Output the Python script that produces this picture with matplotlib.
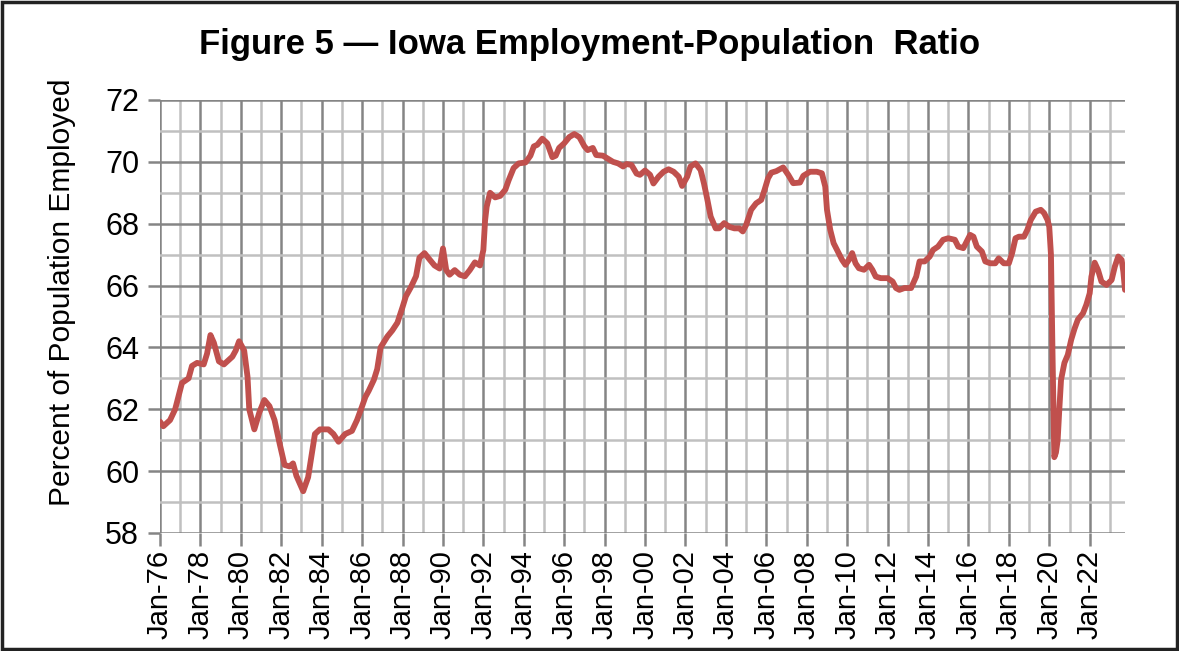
import pandas as pd
import matplotlib
matplotlib.use("Agg")
import matplotlib.pyplot as plt
import matplotlib.dates as mdates
from matplotlib.ticker import MultipleLocator
from matplotlib.patches import Rectangle

plt.rcParams['font.family'] = ['Liberation Sans', 'DejaVu Sans']

# Iowa employment-population ratio (month, percent)
months = [
    "1976-01", "1976-03", "1976-07", "1976-10", "1977-02", "1977-06", "1977-08", "1977-11",
    "1978-03", "1978-05", "1978-07", "1978-09", "1978-12", "1979-03", "1979-08", "1979-10",
    "1979-12", "1980-03", "1980-05", "1980-06", "1980-09", "1980-12", "1981-03", "1981-06",
    "1981-09", "1981-12", "1982-03", "1982-06", "1982-08", "1982-10", "1983-02", "1983-05",
    "1983-09", "1983-12", "1984-05", "1984-08", "1984-11", "1985-03", "1985-07", "1985-10",
    "1986-01", "1986-03", "1986-05", "1986-08", "1986-10", "1986-12", "1987-04", "1987-07",
    "1987-10", "1988-01", "1988-03", "1988-06", "1988-09", "1988-11", "1989-02", "1989-05",
    "1989-08", "1989-11", "1990-01", "1990-03", "1990-05", "1990-08", "1990-11", "1991-02",
    "1991-05", "1991-08", "1991-11", "1992-01", "1992-02", "1992-03", "1992-05", "1992-08",
    "1992-11", "1993-02", "1993-04", "1993-07", "1993-10", "1994-02", "1994-05", "1994-07",
    "1994-09", "1994-12", "1995-03", "1995-06", "1995-08", "1995-10", "1996-01", "1996-04",
    "1996-07", "1996-10", "1997-01", "1997-03", "1997-06", "1997-08", "1997-12", "1998-03",
    "1998-06", "1998-09", "1998-12", "1999-02", "1999-05", "1999-08", "1999-10", "2000-01",
    "2000-04", "2000-06", "2000-09", "2000-12", "2001-03", "2001-06", "2001-09", "2001-11",
    "2002-02", "2002-04", "2002-07", "2002-10", "2002-12", "2003-02", "2003-04", "2003-07",
    "2003-09", "2003-12", "2004-03", "2004-06", "2004-09", "2004-11", "2005-01", "2005-04",
    "2005-07", "2005-10", "2005-12", "2006-02", "2006-04", "2006-07", "2006-11", "2007-02",
    "2007-05", "2007-09", "2007-11", "2008-03", "2008-07", "2008-10", "2008-12", "2009-01",
    "2009-03", "2009-05", "2009-08", "2009-10", "2009-12", "2010-02", "2010-04", "2010-06",
    "2010-08", "2010-11", "2011-02", "2011-04", "2011-06", "2011-09", "2012-01", "2012-04",
    "2012-06", "2012-08", "2012-11", "2013-03", "2013-06", "2013-08", "2013-11", "2014-02",
    "2014-04", "2014-07", "2014-10", "2015-01", "2015-05", "2015-07", "2015-10", "2015-12",
    "2016-02", "2016-04", "2016-06", "2016-09", "2016-11", "2017-02", "2017-05", "2017-07",
    "2017-10", "2018-01", "2018-03", "2018-05", "2018-07", "2018-10", "2018-12", "2019-02",
    "2019-05", "2019-08", "2019-10", "2019-12", "2020-01", "2020-02", "2020-03", "2020-04",
    "2020-05", "2020-06", "2020-07", "2020-08", "2020-10", "2020-12", "2021-02", "2021-04",
    "2021-06", "2021-09", "2021-11", "2022-01", "2022-02", "2022-04", "2022-06", "2022-08",
    "2022-11", "2023-02", "2023-04", "2023-06", "2023-08", "2023-09", "2023-10",
]
ratio = [
    61.6, 61.45, 61.65, 62.0, 62.85, 63.0, 63.4, 63.5,
    63.45, 63.8, 64.4, 64.15, 63.55, 63.45, 63.7, 63.9,
    64.2, 63.9, 63.05, 62.0, 61.35, 61.9, 62.3, 62.1,
    61.65, 60.9, 60.2, 60.15, 60.25, 59.85, 59.35, 59.8,
    61.2, 61.35, 61.35, 61.2, 60.95, 61.2, 61.3, 61.65,
    62.1, 62.4, 62.6, 62.95, 63.3, 64.0, 64.35, 64.55,
    64.8, 65.3, 65.65, 65.95, 66.3, 66.9, 67.05, 66.85,
    66.65, 66.55, 67.2, 66.5, 66.35, 66.5, 66.35, 66.3,
    66.5, 66.75, 66.65, 67.15, 68.1, 68.55, 69.0, 68.85,
    68.9, 69.1, 69.4, 69.8, 69.95, 69.98, 70.2, 70.5,
    70.55, 70.75, 70.6, 70.15, 70.2, 70.45, 70.6, 70.8,
    70.9, 70.8, 70.5, 70.38, 70.45, 70.22, 70.2, 70.1,
    70.0, 69.95, 69.85, 69.93, 69.9, 69.62, 69.58, 69.72,
    69.58, 69.3, 69.52, 69.68, 69.76, 69.68, 69.52, 69.22,
    69.52, 69.85, 69.95, 69.74, 69.3, 68.77, 68.23, 67.85,
    67.85, 68.02, 67.9, 67.85, 67.85, 67.75, 67.96, 68.45,
    68.66, 68.77, 69.1, 69.47, 69.65, 69.7, 69.82, 69.58,
    69.31, 69.33, 69.55, 69.68, 69.68, 69.63, 69.2, 68.45,
    67.8, 67.37, 67.05, 66.83, 66.67, 66.83, 67.05, 66.72,
    66.56, 66.51, 66.67, 66.51, 66.29, 66.24, 66.24, 66.13,
    65.92, 65.86, 65.92, 65.92, 66.29, 66.78, 66.78, 66.94,
    67.15, 67.26, 67.48, 67.53, 67.48, 67.26, 67.21, 67.42,
    67.64, 67.58, 67.26, 67.1, 66.78, 66.72, 66.72, 66.88,
    66.72, 66.72, 67.05, 67.53, 67.58, 67.58, 67.8, 68.12,
    68.39, 68.45, 68.34, 68.12, 67.9, 67.0, 63.7, 60.45,
    60.6, 61.0, 62.0, 62.95, 63.5, 63.76, 64.25, 64.6,
    64.9, 65.1, 65.38, 65.75, 66.29, 66.74, 66.5, 66.13,
    66.02, 66.18, 66.62, 66.94, 66.83, 66.45, 65.86,
]

title = "Figure 5 \u2014 Iowa Employment-Population  Ratio"
ylabel = "Percent of Population Employed"

dates = pd.to_datetime(months)

fig = plt.figure(figsize=(11.79, 6.51), dpi=100)
ax = fig.add_axes([0.1357, 0.1813, 0.8185, 0.6651])

ax.plot(dates, ratio, color='#C0504D', linewidth=4.2, solid_capstyle='round',
        solid_joinstyle='round', zorder=3)

ax.set_ylim(58, 72)
ax.set_xlim(dates[0], dates[-1])
ax.yaxis.set_major_locator(MultipleLocator(2))
ax.yaxis.set_minor_locator(MultipleLocator(1))
ax.xaxis.set_major_locator(mdates.YearLocator(2, month=1, day=1))
ax.xaxis.set_minor_locator(mdates.YearLocator(1, month=1, day=1))
ax.xaxis.set_major_formatter(mdates.DateFormatter('%b-%y'))

ax.grid(which='minor', color='#c0c0c0', linewidth=1.8, zorder=1)
ax.grid(which='major', color='#858585', linewidth=1.8, zorder=2)
ax.set_axisbelow(True)
for s in ax.spines.values():
    s.set_visible(False)

ax.tick_params(axis='both', which='major', length=9, width=1.8, color='#858585', pad=3)
ax.tick_params(axis='both', which='minor', length=0)
ax.tick_params(axis='y', pad=6, labelsize=22)
ax.tick_params(axis='x', labelsize=21)
plt.setp(ax.get_xticklabels(), rotation=90)

fig.text(0.5, 0.931, title, ha='center', va='center', fontsize=25, fontweight='bold')
fig.text(0.0526, 0.5515, ylabel, ha='center', va='center', rotation=90, fontsize=21.5)

fig.patches.append(Rectangle((0.002, 0.003), 0.996, 0.994, transform=fig.transFigure,
                             fill=False, edgecolor='#222222', linewidth=2.5))

fig.savefig('out.png', dpi=100)
